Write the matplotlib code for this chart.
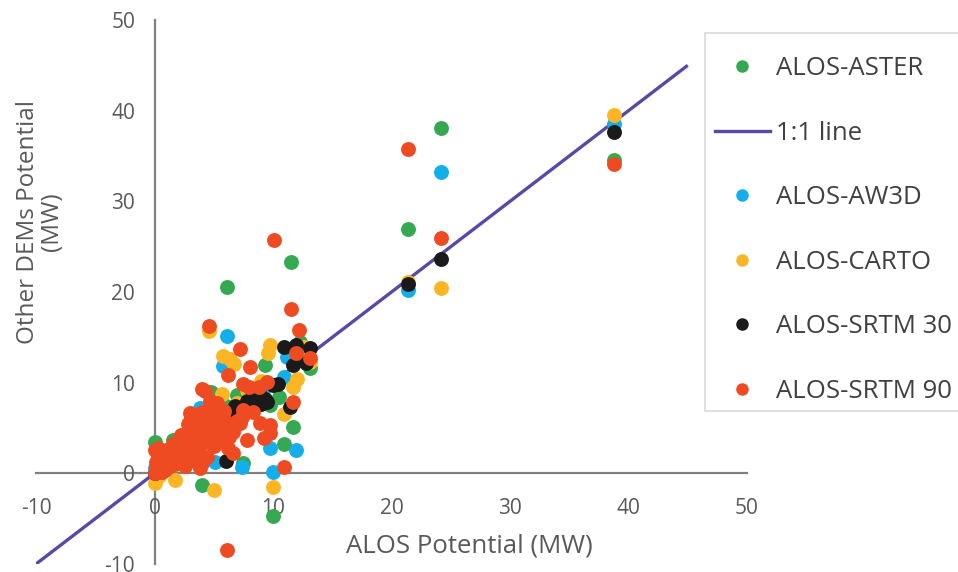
import matplotlib
matplotlib.use("Agg")
import matplotlib.pyplot as plt
from matplotlib.lines import Line2D
from matplotlib.patches import Rectangle

plt.rcParams["font.family"] = ["Open Sans", "DejaVu Sans"]
plt.rcParams["axes.unicode_minus"] = False

# ALOS potential (x) vs other DEM potential (y), MW
aster_x = [38.75, 24.15, 21.4, 11.5, 6.1, 13.1, 12.3, 9.3, 11.7, 10.9, 9.75, 7.5, 6.4, 4.8,
           4.0, 10.0, 0.0, 1.6, 2.2, 0.5, 1.0, 1.8, 2.6, 3.2, 3.8, 4.5, 5.2, 6.0, 7.0, 8.2,
           8.8, 12.0, 10.5, 0.3, 5.6, 3.0]
aster_y = [34.6, 38.1, 26.9, 23.3, 20.6, 11.6, 14.5, 12.0, 5.1, 3.2, 7.5, 1.1, 4.3, 9.0,
           -1.3, -4.7, 3.5, 3.7, 3.5, 0.8, 1.4, 2.4, 2.0, 3.6, 4.8, 4.0, 6.2, 7.4, 8.6, 7.0,
           9.3, 13.2, 8.4, 0.2, 5.0, 4.4]

aw3d_x = [38.75, 24.15, 21.4, 6.1, 5.8, 10.9, 3.1, 3.85, 9.75, 11.9, 10.0, 7.4, 5.1, 0.2,
          0.6, 1.1, 1.6, 2.1, 2.6, 3.4, 4.2, 4.8, 5.5, 6.8, 7.6, 8.4, 9.2, 11.2, 12.4, 13.0,
          2.9, 0.0]
aw3d_y = [38.5, 33.2, 20.2, 15.1, 11.8, 10.65, 5.5, 7.2, 2.75, 2.6, 0.2, 0.7, 1.3, 0.3,
          0.9, 1.0, 1.9, 2.3, 2.2, 3.6, 4.5, 4.2, 6.0, 7.2, 6.6, 8.0, 9.4, 12.8, 13.4, 12.6,
          3.0, 0.6]

carto_x = [38.75, 24.15, 21.4, 4.6, 9.75, 9.6, 5.8, 6.4, 6.7, 11.7, 10.9, 5.7, 10.0, 5.0,
           1.7, 0.0, 13.1, 12.6, 0.4, 0.9, 1.4, 2.0, 2.5, 3.0, 3.6, 4.3, 5.0, 7.0, 7.8, 8.6,
           9.0, 12.0, 0.2]
carto_y = [39.5, 20.4, 21.1, 15.7, 14.2, 13.3, 12.9, 12.6, 12.1, 9.55, 6.5, 8.8, -1.5, -1.8,
           -0.7, -1.1, 12.3, 13.9, -0.3, 0.6, 1.2, 2.4, 1.9, 3.4, 3.9, 4.6, 5.8, 7.8, 9.2, 8.6,
           10.2, 10.4, 0.1]

srtm30_x = [38.75, 24.15, 21.4, 10.9, 11.9, 13.1, 11.7, 12.8, 10.0, 7.8, 8.5, 9.0, 9.5, 8.2,
            11.4, 6.4, 7.2, 6.0, 0.0, 0.3, 0.7, 1.1, 1.5, 2.0, 2.5, 3.0, 3.5, 4.0, 4.5, 5.0,
            5.5, 6.8, 8.8, 9.3, 10.4]
srtm30_y = [37.6, 23.6, 20.9, 13.9, 14.2, 13.8, 11.9, 12.2, 9.7, 8.0, 8.4, 7.6, 7.9, 7.3,
            7.3, 6.6, 7.0, 1.4, 0.0, 0.3, 0.6, 1.1, 1.4, 2.0, 2.4, 3.0, 3.4, 4.1, 4.4, 5.0,
            5.6, 7.4, 8.9, 8.2, 9.8]

srtm90_x = [38.75, 24.15, 21.4, 10.1, 11.5, 4.6, 12.2, 7.2, 11.9, 13.1, 8.1, 6.2, 9.5, 7.5,
            8.0, 8.8, 4.0, 4.3, 4.7, 5.3, 11.7, 3.0, 7.5, 8.3, 8.9, 9.75, 9.75, 7.8, 9.2, 6.2,
            6.6, 10.9, 6.1, 0.0, 4.0, 6.4, 7.2,
            0.0, 0.1, 0.2, 0.3, 0.4, 0.5, 0.6, 0.8, 1.0, 1.1, 1.3, 1.5, 1.6, 1.8, 2.0, 2.1,
            2.3, 2.5, 2.7, 2.8, 3.0, 3.2, 3.3, 3.5, 3.7, 3.9, 4.1, 4.3, 4.5, 4.7, 4.9, 5.1,
            5.3, 5.5, 5.8, 6.0, 2.8, 3.4, 4.0, 3.8, 4.5, 2.2, 1.6, 1.0, 0.3, 3.4, 3.8, 4.4,
            2.6, 5.0, 5.6, 6.6, 7.0, 5.9,
            0.1, 0.4, 0.7, 0.9, 1.2, 1.4, 1.7, 1.9, 2.2, 2.4, 2.6, 2.9, 3.1, 3.6, 4.2, 4.8,
            5.2, 5.7, 6.3, 3.3, 2.0, 0.5, 4.6, 5.4, 6.8, 7.4, 3.0, 2.4]
srtm90_y = [34.1, 26.0, 35.8, 25.7, 18.1, 16.2, 15.8, 13.7, 13.3, 12.7, 11.7, 10.8, 10.1, 9.9,
            9.5, 9.5, 9.3, 9.1, 8.0, 7.8, 7.9, 6.7, 7.0, 6.8, 5.5, 5.3, 4.4, 3.7, 3.9, 2.75,
            2.2, 0.7, -8.5, 2.6, 1.1, 5.1, 5.6,
            0.0, 1.2, 0.4, 2.0, 0.8, 1.5, 0.2, 1.0, 1.6, 0.7, 2.2, 1.3, 2.8, 1.9, 2.5, 1.4,
            3.1, 2.2, 3.4, 2.0, 3.0, 4.0, 2.6, 3.5, 4.6, 3.2, 4.4, 3.6, 5.0, 4.2, 5.6, 4.6,
            6.0, 5.2, 6.3, 5.7, 5.4, 6.2, 6.8, 5.8, 6.4, 4.2, 3.2, 2.6, 2.8, 1.4, 0.6, 1.8,
            0.8, 3.0, 3.6, 4.6, 5.8, 6.9,
            0.6, 0.1, 1.3, 0.4, 1.0, 2.0, 1.0, 2.6, 1.8, 3.0, 1.7, 3.8, 4.4, 2.4, 5.2, 3.4,
            5.0, 4.4, 4.0, 5.0, 3.6, 2.4, 7.0, 6.6, 5.2, 6.2, 5.8, 2.8]

line_x = [-10, 45]
line_y = [-10, 45]

xticks = [-10, 0, 10, 20, 30, 40, 50]
yticks = [-10, 0, 10, 20, 30, 40, 50]

green = "#35A852"
blue = "#14AEEA"
orange = "#FCB623"
black = "#1A1A1A"
red = "#EF4B23"
purple = "#5A47A6"

fig = plt.figure(figsize=(9.58, 5.72), dpi=100)
ax = fig.add_axes([36 / 958, 8 / 572, 711 / 958, 544 / 572])

size = 115
ax.scatter(aster_x, aster_y, s=size, color=green, linewidths=0, zorder=2)
ax.plot(line_x, line_y, color=purple, lw=2.4, zorder=2.5, solid_capstyle="butt")
ax.scatter(aw3d_x, aw3d_y, s=size, color=blue, linewidths=0, zorder=3)
ax.scatter(carto_x, carto_y, s=size, color=orange, linewidths=0, zorder=4)
ax.scatter(srtm30_x, srtm30_y, s=size, color=black, linewidths=0, zorder=5)
ax.scatter(srtm90_x, srtm90_y, s=size, color=red, linewidths=0, zorder=6)

ax.set_xlim(-10, 50)
ax.set_ylim(-10, 50)
ax.set_xticks(xticks)
ax.set_yticks(yticks)

for side in ["top", "right"]:
    ax.spines[side].set_visible(False)
for side in ["left", "bottom"]:
    ax.spines[side].set_position(("data", 0))
    ax.spines[side].set_color("#808080")
    ax.spines[side].set_linewidth(1.6)
    ax.spines[side].set_zorder(1)

ax.tick_params(axis="x", length=0, pad=18, labelsize=15, labelcolor="#595959")
ax.tick_params(axis="y", length=0, pad=14, labelsize=15, labelcolor="#595959")

fig.text(469 / 958, 1 - 546 / 572, "ALOS Potential (MW)", ha="center", va="center",
         fontsize=18.5, color="#595959")
fig.text(40 / 958, 1 - 222 / 572, "Other DEMs Potential\n(MW)", ha="center", va="center",
         rotation=90, multialignment="center", fontsize=17.5, color="#595959",
         linespacing=1.0)

# legend box runs off the right edge, as in the source chart
box = Rectangle((705 / 958, 1 - 411 / 572), 300 / 958, 378 / 572, transform=fig.transFigure,
                facecolor="white", edgecolor="#D9D9D9", lw=1.2, clip_on=False, zorder=7)
ax.add_patch(box)

handles = [
    Line2D([], [], ls="", marker="o", ms=8, color=green, label="ALOS-ASTER"),
    Line2D([], [], color=purple, lw=2.4, label="1:1 line"),
    Line2D([], [], ls="", marker="o", ms=8, color=blue, label="ALOS-AW3D"),
    Line2D([], [], ls="", marker="o", ms=8, color=orange, label="ALOS-CARTO"),
    Line2D([], [], ls="", marker="o", ms=8, color=black, label="ALOS-SRTM 30"),
    Line2D([], [], ls="", marker="o", ms=8, color=red, label="ALOS-SRTM 90"),
]
leg = ax.legend(handles=handles, loc="upper left", bbox_to_anchor=(715 / 958, 1 - 56 / 572),
                bbox_transform=fig.transFigure, borderaxespad=0, borderpad=0, fontsize=18.5,
                labelspacing=1.54, handlelength=2.14, handletextpad=0.23, frameon=False,
                labelcolor="#404040")
leg.set_zorder(8)

fig.savefig("out.png", dpi=100)
